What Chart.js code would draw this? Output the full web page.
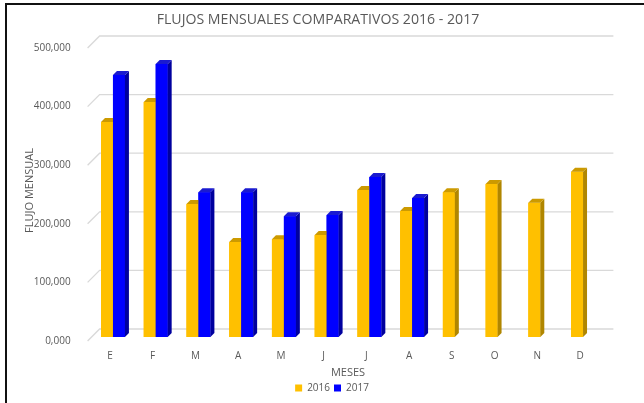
<!DOCTYPE html>
<html>
<head>
<meta charset="utf-8">
<script src="https://cdn.jsdelivr.net/npm/chart.js@4.4.1/dist/chart.umd.min.js"></script>
<style>
  html, body { margin: 0; padding: 0; background: #fff; }
  canvas { display: block; }
</style>
</head>
<body>
<canvas id="c" width="644" height="403"></canvas>
<script>
// ---- data ----
const categories = ['E', 'F', 'M', 'A', 'M', 'J', 'J', 'A', 'S', 'O', 'N', 'D'];
const flujo2016 = [367000, 401000, 227000, 162000, 167000, 174000, 251000, 215000, 247000, 261000, 229000, 282000];
const flujo2017 = [447000, 466000, 247000, 247000, 206000, 208000, 273000, 237000, null, null, null, null];
const yTickValues = [0, 100000, 200000, 300000, 400000, 500000];
const yTickLabels = ['0,000', '100,000', '200,000', '300,000', '400,000', '500,000'];
const seriesNames = ['2016', '2017'];
const chartTitle = 'FLUJOS MENSUALES COMPARATIVOS 2016 - 2017';
const xTitle = 'MESES';
const yTitle = 'FLUJO MENSUAL';

// ---- styles ----
const FONT = "'Open Sans', 'Liberation Sans', sans-serif";
const TEXT = '#595959';
const faces = [
  { front: '#FFC000', side: '#B08600', top: '#CC9A00' },
  { front: '#0000FF', side: '#00009E', top: '#1A1AD0' }
];
const DEPTH = 4;

// fit the title font size to the reference width
function fitSize(text, targetW, base) {
  const m = document.createElement('canvas').getContext('2d');
  m.font = base + 'px ' + FONT;
  return base * targetW / m.measureText(text).width;
}
const titleSize = fitSize(chartTitle, 323, 15);
const titleLH = titleSize * 1.2;

const frame3d = {
  id: 'frame3d',
  beforeDraw(chart) {
    const ctx = chart.ctx;
    ctx.save();
    ctx.fillStyle = '#fff';
    ctx.fillRect(0, 0, chart.width, chart.height);
    ctx.strokeStyle = '#111';
    ctx.lineWidth = 2;
    ctx.beginPath();
    ctx.moveTo(6, chart.height);
    ctx.lineTo(6, 4);
    ctx.lineTo(chart.width, 4);
    ctx.stroke();
    ctx.restore();
  },
  beforeDatasetsDraw(chart) {
    const ctx = chart.ctx;
    const y = chart.scales.y;
    const a = chart.chartArea;
    ctx.save();
    ctx.strokeStyle = '#D9D9D9';
    ctx.lineWidth = 1.3;
    y.ticks.forEach(t => {
      const py = y.getPixelForValue(t.value);
      ctx.beginPath();
      ctx.moveTo(a.left - 4, py + 4);
      ctx.lineTo(a.left + 8, py - 8);
      ctx.lineTo(a.right + 9, py - 8);
      ctx.stroke();
    });
    ctx.restore();
  },
  afterDatasetsDraw(chart) {
    const ctx = chart.ctx;
    const d = DEPTH;
    ctx.save();
    [0, 1].forEach(di => {
      const meta = chart.getDatasetMeta(di);
      const f = faces[di];
      meta.data.forEach((el, i) => {
        const v = chart.data.datasets[di].data[i];
        if (v === null || v === undefined) return;
        const p = el.getProps(['x', 'y', 'base', 'width'], true);
        const xl = p.x - p.width / 2, xr = p.x + p.width / 2;
        const top = p.y, base = p.base;
        ctx.fillStyle = f.front;
        ctx.fillRect(xl, top, xr - xl, base - top);
        ctx.fillStyle = f.side;
        ctx.beginPath();
        ctx.moveTo(xr, top); ctx.lineTo(xr + d, top - d);
        ctx.lineTo(xr + d, base - d); ctx.lineTo(xr, base);
        ctx.closePath(); ctx.fill();
        ctx.fillStyle = f.top;
        ctx.beginPath();
        ctx.moveTo(xl, top); ctx.lineTo(xl + d, top - d);
        ctx.lineTo(xr + d, top - d); ctx.lineTo(xr, top);
        ctx.closePath(); ctx.fill();
      });
    });
    ctx.restore();
  },
  afterLayout(chart) {
    // legend sits a little right of the title centre in the reference
    chart.legend.left += 14;
    chart.legend.right += 14;
  }
};

new Chart(document.getElementById('c'), {
  type: 'bar',
  data: {
    labels: categories,
    datasets: [
      { label: seriesNames[0], data: flujo2016, backgroundColor: faces[0].front, borderWidth: 0 },
      { label: seriesNames[1], data: flujo2017, backgroundColor: faces[1].front, borderWidth: 0 }
    ]
  },
  plugins: [frame3d],
  options: {
    responsive: false,
    animation: false,
    events: [],
    layout: { padding: { left: 0, right: 8, top: 0, bottom: 0 } },
    datasets: { bar: { categoryPercentage: 0.56, barPercentage: 1.0 } },
    plugins: {
      title: {
        display: true,
        text: chartTitle,
        color: TEXT,
        font: { family: FONT, size: titleSize, weight: 'normal', lineHeight: 1.2 },
        padding: { top: 20 - titleLH / 2, bottom: 44 - 20 - titleLH / 2 }
      },
      legend: {
        display: true,
        position: 'bottom',
        labels: {
          color: TEXT,
          font: { family: FONT, size: 10 },
          boxWidth: 7, boxHeight: 7, padding: 4
        }
      },
      tooltip: { enabled: false }
    },
    scales: {
      x: {
        grid: { display: false },
        border: { display: false },
        ticks: { color: TEXT, font: { family: FONT, size: 10 }, padding: 5, labelOffset: -3, maxRotation: 0, autoSkip: false },
        title: { display: true, text: xTitle, color: TEXT, font: { family: FONT, size: 11 }, padding: { top: 0, bottom: 0 } },
        afterFit(s) { s.height = 42; }
      },
      y: {
        min: 0, max: 500000,
        afterBuildTicks(s) { s.ticks = yTickValues.map(v => ({ value: v })); },
        grid: { display: false },
        border: { display: false },
        ticks: {
          color: TEXT, font: { family: FONT, size: 10 }, padding: 13, labelOffset: 4,
          callback: (v, i) => yTickLabels[i]
        },
        title: { display: true, text: yTitle, color: TEXT, font: { family: FONT, size: 11 }, padding: { top: 23, bottom: 0 } },
        afterFit(s) { s.width = 91.6; }
      },
      yR: {
        position: 'right',
        display: true,
        grid: { display: false },
        border: { display: false },
        ticks: { display: false },
        afterFit(s) { s.width = 644 - 8 - 604.4; }
      }
    }
  }
});
</script>
</body>
</html>
